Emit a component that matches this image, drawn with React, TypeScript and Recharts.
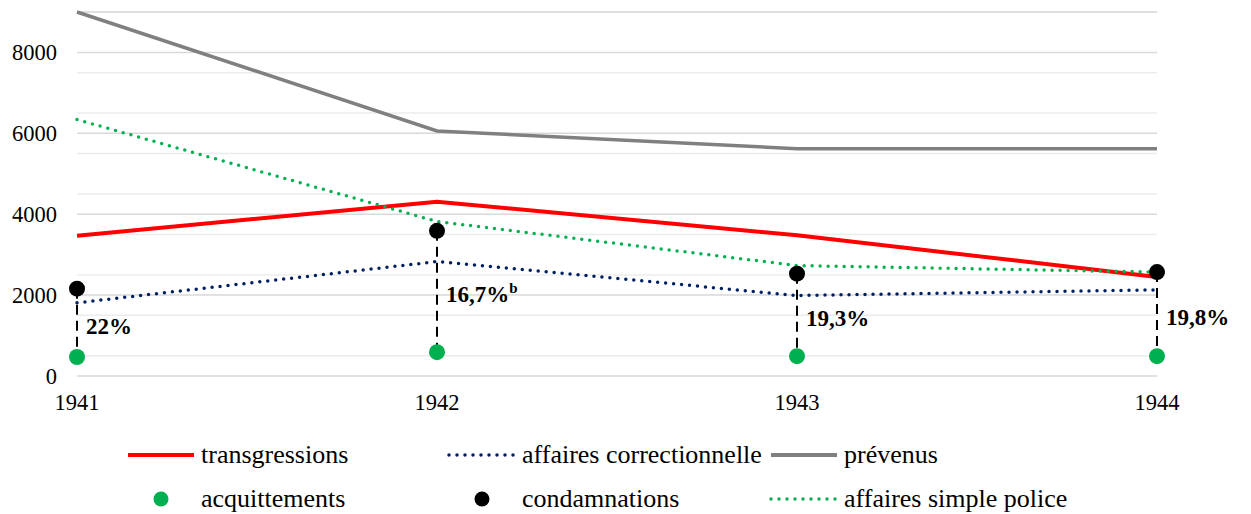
import React from 'react';
import { ComposedChart, Line, XAxis, YAxis, CartesianGrid, ReferenceLine, Legend } from 'recharts';

const years = ['1941', '1942', '1943', '1944'];
const transgressions = [3470, 4310, 3480, 2450];
const affairesCorrectionnelle = [1810, 2830, 1990, 2130];
const prevenus = [9000, 6060, 5620, 5620];
const acquittements = [470, 590, 490, 490];
const condamnations = [2160, 3590, 2530, 2570];
const affairesSimplePolice = [6340, 3820, 2730, 2570];
const rateLabels = ['22%', '16,7%', '19,3%', '19,8%'];
const rateNotes = ['', 'b', '', ''];
const yTicks = [0, 2000, 4000, 6000, 8000];
const minorTicks = [500, 1000, 1500, 2500, 3000, 3500, 4500, 5000, 5500, 6500, 7000, 7500, 8500, 9000];

const data = years.map((y, i) => ({
  year: y,
  transgressions: transgressions[i],
  correctionnelle: affairesCorrectionnelle[i],
  prevenus: prevenus[i],
  acquittements: acquittements[i],
  condamnations: condamnations[i],
  police: affairesSimplePolice[i],
}));

const FONT = 'Liberation Serif';
const RED = '#FF0000';
const NAVY = '#002060';
const GREY = '#808080';
const GREEN = '#00B050';
const BLACK = '#000000';

type LegendItem = { name: string; kind: 'line' | 'dotted' | 'dot'; color: string; width: number };
const legendItems: LegendItem[] = [
  { name: 'transgressions', kind: 'line', color: RED, width: 4 },
  { name: 'affaires correctionnelle', kind: 'dotted', color: NAVY, width: 3.5 },
  { name: 'prévenus', kind: 'line', color: GREY, width: 4 },
  { name: 'acquittements', kind: 'dot', color: GREEN, width: 0 },
  { name: 'condamnations', kind: 'dot', color: BLACK, width: 0 },
  { name: 'affaires simple police', kind: 'dotted', color: GREEN, width: 3.5 },
];
const colX = [128, 449, 771];
const rowY = [25, 69];

const LegendContent = () => (
  <svg width={1251} height={84} style={{ display: 'block' }}>
    {legendItems.map((it, i) => {
      const col = i % 3;
      const row = Math.floor(i / 3);
      const x0 = colX[col];
      const x1 = x0 + 66;
      const y = rowY[row];
      return (
        <g key={it.name}>
          {it.kind === 'line' && <line x1={x0} x2={x1} y1={y} y2={y} stroke={it.color} strokeWidth={it.width} />}
          {it.kind === 'dotted' && (
            <line x1={x0} x2={x1} y1={y} y2={y} stroke={it.color} strokeWidth={it.width} strokeDasharray="0 8" strokeLinecap="round" />
          )}
          {it.kind === 'dot' && <circle cx={(x0 + x1) / 2} cy={y} r={7.5} fill={it.color} />}
          <text x={x1 + 7} y={y + 8} fontSize={26} fill="#000" style={{ fontFamily: FONT }}>
            {it.name}
          </text>
        </g>
      );
    })}
  </svg>
);

const makeLabel = (i: number) => (p: any) => {
  const vb = p.viewBox || {};
  const x = (vb.x ?? 0) + 9;
  const y = (vb.y ?? 0) + (vb.height ?? 0) / 2 + 11;
  return (
    <text x={x} y={y} fontSize={23} fontWeight="bold" fill="#000" style={{ fontFamily: FONT }}>
      {rateLabels[i]}
      {rateNotes[i] ? (
        <tspan dy={-9} fontSize={15}>
          {rateNotes[i]}
        </tspan>
      ) : null}
    </text>
  );
};

const tickStyle = { fontSize: 22.5, fill: '#000', style: { fontFamily: FONT } };

export default function App() {
  return (
    <div style={{ position: 'absolute', left: 0, top: 0, width: 1251, height: 514, background: '#fff', fontFamily: FONT }}>
      <ComposedChart width={1251} height={514} data={data} margin={{ top: 12, right: 94, left: 0, bottom: 98 }}>
        <CartesianGrid vertical={false} horizontalValues={minorTicks} stroke="#ececec" strokeWidth={1.5} />
        <CartesianGrid vertical={false} stroke="#d9d9d9" strokeWidth={1.5} />
        <XAxis
          dataKey="year"
          scale="point"
          padding={{ left: 0, right: 0 }}
          axisLine={false}
          tickLine={false}
          height={40}
          tickMargin={12}
          tick={tickStyle}
        />
        <YAxis
          domain={[0, 9000]}
          ticks={yTicks}
          axisLine={false}
          tickLine={false}
          width={77}
          tickMargin={14}
          tick={tickStyle}
        />
        <Line dataKey="prevenus" name="prévenus" stroke={GREY} strokeWidth={3.5} dot={false} activeDot={false} isAnimationActive={false} />
        <Line dataKey="transgressions" name="transgressions" stroke={RED} strokeWidth={4} dot={false} activeDot={false} isAnimationActive={false} />
        <Line dataKey="police" name="affaires simple police" stroke={GREEN} strokeWidth={3.5} strokeDasharray="0 8" strokeLinecap="round" dot={false} activeDot={false} isAnimationActive={false} />
        <Line dataKey="correctionnelle" name="affaires correctionnelle" stroke={NAVY} strokeWidth={3.5} strokeDasharray="0 8" strokeLinecap="round" dot={false} activeDot={false} isAnimationActive={false} />
        {years.map((y, i) => (
          <ReferenceLine
            key={y}
            segment={[
              { x: y, y: condamnations[i] },
              { x: y, y: acquittements[i] },
            ]}
            stroke="#000"
            strokeWidth={2}
            strokeDasharray="10 6"
            label={makeLabel(i)}
          />
        ))}
        <Line dataKey="acquittements" name="acquittements" stroke="none" strokeWidth={0} dot={{ r: 8, fill: GREEN, stroke: GREEN, strokeWidth: 0 }} activeDot={false} isAnimationActive={false} />
        <Line dataKey="condamnations" name="condamnations" stroke="none" strokeWidth={0} dot={{ r: 8, fill: BLACK, stroke: BLACK, strokeWidth: 0 }} activeDot={false} isAnimationActive={false} />
        <Legend
          layout="horizontal"
          verticalAlign="middle"
          align="center"
          content={LegendContent}
          wrapperStyle={{ top: 430, left: 0, width: 1251, height: 84 }}
        />
      </ComposedChart>
    </div>
  );
}
